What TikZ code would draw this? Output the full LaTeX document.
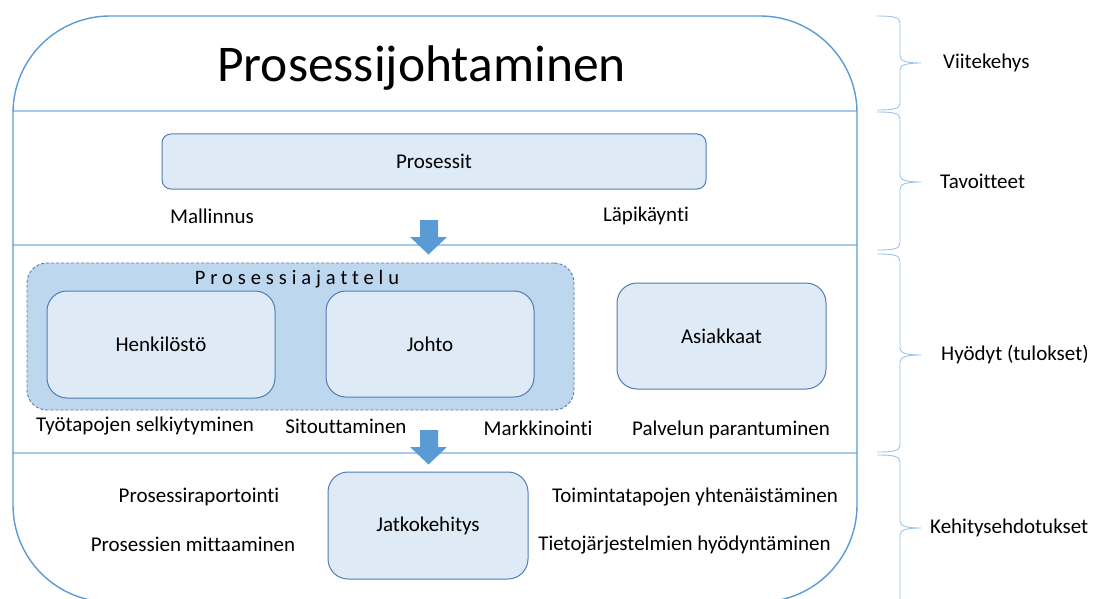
\documentclass[tikz,border=0pt]{standalone}
\usepackage{fontspec}
\setmainfont{Carlito}[Ligatures=NoCommon]
\newfontfamily\spacedfont{Carlito}[LetterSpace=24, Ligatures=NoCommon]
\usetikzlibrary{positioning}

\definecolor{framecol}{HTML}{5B9BD5}
\definecolor{dividercol}{HTML}{A7C9EA}
\definecolor{boxfill}{HTML}{DEEBF7}
\definecolor{boxline}{HTML}{4F7DB3}
\definecolor{groupfill}{HTML}{BDD7EE}
\definecolor{arrowfill}{HTML}{5B9BD5}
\definecolor{bracecol}{HTML}{9DC3E6}

% curly brace on the right side: top y, tip y, bottom y
\newcommand\sidebrace[3]{%
  \draw[bracecol, line width=0.9pt]
    (877,#1) .. controls (893,#1) and (900,#1+1) .. (900,#1+7)
    -- (900,#2-7) .. controls (900,#2-2) and (906,#2) .. (921,#2)
    .. controls (906,#2) and (900,#2+2) .. (900,#2+7)
    -- (900,#3-7) .. controls (900,#3-1) and (893,#3) .. (877,#3);}

\tikzset{
  txt/.style={font=\fontsize{21}{25}\selectfont, text=black, inner sep=0pt},
  bluebox/.style={draw=boxline, fill=boxfill, line width=1pt, inner sep=0pt,
    rounded corners=20pt, font=\fontsize{21}{25}\selectfont},
  groupbox/.style={draw=boxline, fill=groupfill, line width=0.9pt, inner sep=0pt,
    dash pattern=on 3pt off 2pt, rounded corners=20pt},
  divider/.style={dividercol, line width=1.3pt},
  blockarrow/.pic={
    \fill[arrowfill] (-8.5,0) -- (9.5,0) -- (9.5,17) -- (18.5,17) -- (0,34.5)
      -- (-18.5,17) -- (-8.5,17) -- cycle;}
}

\begin{document}
\begin{tikzpicture}[x=1pt, y=-1pt]
\useasboundingbox (0,0) rectangle (1097,599);
\clip (0,0) rectangle (1097,599);

% outer frame and section dividers
\draw[divider] (13,111) -- (857,111);
\draw[divider] (13,245) -- (857,245);
\draw[divider] (13,453) -- (857,453);
\draw[framecol, line width=1.4pt, rounded corners=97pt]
  (13,16) rectangle (857,602);

% title
\node[inner sep=0pt, font=\fontsize{51.5}{60}\selectfont] (title) at (421.5,68) {Prosessijohtaminen};

% goals
\node[bluebox, rounded corners=9pt, minimum width=544pt, minimum height=55pt]
  (prosessit) at (434,161.5) {Prosessit};
\node[txt] (mallinnus) at (212,216) {Mallinnus};
\node[txt] (lapikaynti) at (646,216) {Läpikäynti};
\pic (arrowA) at (428.5,220) {blockarrow};

% benefits
\node[groupbox, minimum width=547pt, minimum height=147pt]
  (ajattelu) at (300.5,336.5) {};
\node[txt, font=\fontsize{20.5}{24}\spacedfont] (ajattelulabel) at (297,279) {Prosessiajattelu};
\node[bluebox, minimum width=228pt, minimum height=107pt] (henk) at (161,344.5) {Henkilöstö};
\node[bluebox, minimum width=208pt, minimum height=106pt] (johto) at (430,344) {Johto};
\node[bluebox, minimum width=209pt, minimum height=106pt] (asiak) at (721.5,336) {Asiakkaat};
\node[txt] (tyotavat) at (145,426) {Työtapojen selkiytyminen};
\node[txt] (sitout) at (346,426) {Sitouttaminen};
\node[txt] (markk) at (538,428) {Markkinointi};
\node[txt] (palvelu) at (731,430) {Palvelun parantuminen};
\pic (arrowB) at (428.5,430) {blockarrow};

% development proposals
\node[bluebox, minimum width=200pt, minimum height=107pt] (jatko) at (428,525.5) {Jatkokehitys};
\node[txt] (raport) at (199,497) {Prosessiraportointi};
\node[txt] (mittaus) at (193,544) {Prosessien mittaaminen};
\node[txt] (yhten) at (695,497) {Toimintatapojen yhtenäistäminen};
\node[txt] (tietoj) at (684.5,545) {Tietojärjestelmien hyödyntäminen};

% side braces and their labels
\sidebrace{16}{63}{110}
\sidebrace{112}{182}{250}
\sidebrace{254}{355}{452}
\sidebrace{455}{528}{610}
\node[txt, anchor=west] (viite) at (943,63) {Viitekehys};
\node[txt, anchor=west] (tavoit) at (940,181) {Tavoitteet};
\node[txt, anchor=west] (hyodyt) at (941,355) {Hyödyt (tulokset)};
\node[txt, anchor=west] (kehitys) at (930,528) {Kehitysehdotukset};
\end{tikzpicture}
\end{document}
